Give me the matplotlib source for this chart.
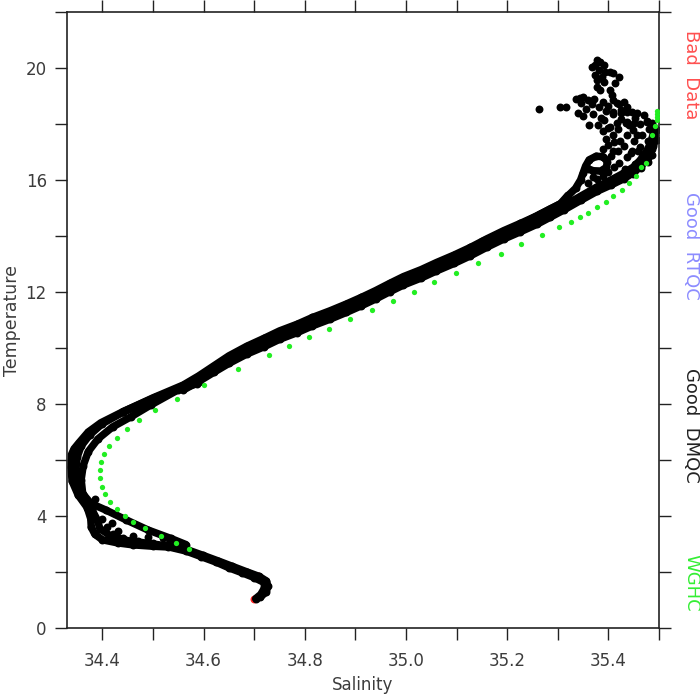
import matplotlib
matplotlib.use("Agg")
import matplotlib.pyplot as plt

# ---------------- data (Salinity, Temperature) ----------------
# WGHC climatology profile (green)
wghc_S = [35.497, 35.497, 35.497, 35.496, 35.493, 35.487, 35.475, 35.465, 35.454, 35.440,
          35.426, 35.410, 35.395, 35.378, 35.360, 35.3445, 35.326, 35.303, 35.269, 35.228,
          35.187, 35.143, 35.099, 35.055, 35.0165, 34.974, 34.932, 34.890, 34.848, 34.808,
          34.768, 34.729, 34.668, 34.601, 34.547, 34.504, 34.473, 34.448, 34.428, 34.413,
          34.403, 34.397, 34.395, 34.395, 34.399, 34.406, 34.415, 34.428, 34.444, 34.461,
          34.485, 34.516, 34.546, 34.572]
wghc_T = [18.45, 18.35, 18.25, 18.15, 17.93, 17.60, 16.62, 16.45, 16.14, 15.90,
          15.64, 15.42, 15.20, 15.02, 14.83, 14.67, 14.51, 14.31, 14.04, 13.70,
          13.37, 13.02, 12.68, 12.35, 12.01, 11.68, 11.36, 11.02, 10.69, 10.38,
          10.07, 9.75, 9.25, 8.68, 8.18, 7.78, 7.42, 7.10, 6.79, 6.49,
          6.20, 5.93, 5.64, 5.36, 5.05, 4.78, 4.50, 4.25, 3.99, 3.78,
          3.56, 3.30, 3.05, 2.83]

# Bad data points (red)
bad_S = [34.699, 34.708]
bad_T = [1.02, 1.85]

# Good DMQC profiles (black)
tailA_S = [34.703, 34.713, 34.720, 34.720, 34.700, 34.675, 34.650, 34.625, 34.595, 34.565, 34.530]
tailA_T = [1.05, 1.20, 1.42, 1.62, 1.80, 1.98, 2.15, 2.35, 2.55, 2.75, 2.90]
tailB_S = [34.712, 34.724, 34.727, 34.724, 34.710, 34.686, 34.657, 34.628, 34.598, 34.570]
tailB_T = [1.10, 1.30, 1.50, 1.68, 1.84, 2.00, 2.20, 2.40, 2.60, 2.78]

outer_S = [34.545, 34.500, 34.460, 34.430, 34.400, 34.385, 34.378, 34.377, 34.370, 34.352,
           34.340, 34.338, 34.339, 34.344, 34.353, 34.372, 34.397, 34.440, 34.506, 34.586]
outer_T = [2.88, 2.92, 2.97, 3.04, 3.15, 3.35, 3.60, 3.90, 4.30, 4.75,
           5.25, 5.75, 6.20, 6.40, 6.60, 7.00, 7.33, 7.72, 8.25, 8.72]

mid_S = [34.560, 34.500, 34.450, 34.415, 34.395, 34.390, 34.380, 34.360, 34.348, 34.347,
         34.350, 34.358, 34.375, 34.400, 34.440, 34.500, 34.560]
mid_T = [2.85, 3.00, 3.12, 3.30, 3.55, 3.85, 4.20, 4.60, 5.10, 5.60,
         6.10, 6.50, 6.90, 7.30, 7.70, 8.15, 8.60]

inner_S = [34.565, 34.535, 34.490, 34.447, 34.407, 34.377, 34.361, 34.358, 34.362, 34.372,
           34.391, 34.420, 34.457, 34.496, 34.549]
inner_T = [2.98, 3.20, 3.50, 3.86, 4.21, 4.45, 4.80, 5.30, 5.80, 6.30,
           6.75, 7.18, 7.55, 7.97, 8.50]

loop_fill_S = [34.420, 34.440, 34.470, 34.500, 34.530, 34.410, 34.430, 34.460, 34.490, 34.520,
               34.400, 34.418, 34.385]
loop_fill_T = [3.35, 3.20, 3.10, 3.05, 3.00, 3.60, 3.45, 3.30, 3.25, 3.20,
               3.90, 3.75, 4.60]

center_S = [34.530, 34.560, 34.590, 34.620, 34.650, 34.685, 34.720, 34.750, 34.785, 34.815,
            34.850, 34.882, 34.912, 34.940, 34.968, 34.995, 35.030, 35.060, 35.095, 35.127,
            35.160, 35.193, 35.226, 35.259, 35.285, 35.312, 35.345, 35.378, 35.405, 35.430,
            35.450, 35.463, 35.475, 35.483, 35.488, 35.490]
center_T = [8.40, 8.65, 8.95, 9.28, 9.60, 9.93, 10.20, 10.46, 10.70, 10.94,
            11.18, 11.42, 11.66, 11.90, 12.16, 12.40, 12.65, 12.90, 13.17, 13.44,
            13.75, 14.04, 14.30, 14.57, 14.82, 15.08, 15.42, 15.76, 16.00, 16.24,
            16.47, 16.71, 17.00, 17.31, 17.60, 17.90]

lower_S = [34.560, 34.590, 34.620, 34.650, 34.685, 34.720, 34.750, 34.785, 34.815, 34.850,
           34.882, 34.912, 34.940, 34.968, 34.995, 35.030, 35.060, 35.095, 35.127, 35.160,
           35.193, 35.226, 35.259, 35.285, 35.312, 35.345, 35.378, 35.405, 35.430, 35.450,
           35.465, 35.478, 35.487, 35.493, 35.496]
lower_T = [8.50, 8.80, 9.13, 9.45, 9.78, 10.05, 10.31, 10.55, 10.79, 11.03,
           11.27, 11.51, 11.75, 12.01, 12.25, 12.50, 12.75, 13.02, 13.29, 13.60,
           13.89, 14.15, 14.42, 14.67, 14.93, 15.27, 15.60, 15.82, 16.04, 16.27,
           16.50, 16.80, 17.12, 17.45, 17.80]

upper_S = [34.440, 34.500, 34.560, 34.590, 34.620, 34.650, 34.685, 34.720, 34.750, 34.785,
           34.815, 34.850, 34.882, 34.912, 34.940, 34.968, 34.995, 35.030, 35.060, 35.095,
           35.127, 35.160, 35.193, 35.226, 35.259, 35.285, 35.305, 35.320]
upper_T = [7.72, 8.22, 8.68, 9.00, 9.36, 9.72, 10.06, 10.35, 10.61, 10.85,
           11.09, 11.33, 11.57, 11.81, 12.05, 12.31, 12.55, 12.80, 13.05, 13.32,
           13.59, 13.90, 14.19, 14.45, 14.72, 14.97, 15.15, 15.45]

upper2_S = [35.150, 35.190, 35.230, 35.265, 35.295, 35.320]
upper2_T = [13.80, 14.10, 14.45, 14.78, 15.05, 15.30]

loop_S = [35.318, 35.335, 35.345, 35.350, 35.355, 35.362, 35.376, 35.390, 35.398, 35.396,
          35.385, 35.370, 35.360]
loop_T = [15.40, 15.70, 16.00, 16.25, 16.50, 16.72, 16.85, 16.83, 16.65, 16.45,
          16.32, 16.33, 16.40]

cloud_S = [35.370, 35.390, 35.360, 35.400, 35.412, 35.378,
           # right dense block
           35.421, 35.418, 35.423, 35.419, 35.424, 35.433, 35.437, 35.431, 35.436, 35.434,
           35.448, 35.452, 35.447, 35.451, 35.449, 35.453, 35.464, 35.467, 35.462, 35.466,
           35.463, 35.478, 35.482, 35.479, 35.481, 35.477, 35.428, 35.444, 35.458, 35.472,
           35.488, 35.490, 35.486, 35.441, 35.456,
           # left column
           35.380, 35.390, 35.400, 35.410, 35.395, 35.400, 35.410, 35.390, 35.412, 35.405,
           # top-left clump
           35.335, 35.350, 35.345, 35.360, 35.372, 35.368, 35.355, 35.340, 35.382, 35.390,
           35.400, 35.395, 35.410, 35.425, 35.420, 35.436, 35.370, 35.385, 35.350,
           # column to 20 degrees
           35.378, 35.384, 35.374, 35.368, 35.391, 35.381, 35.394, 35.404, 35.410, 35.374,
           35.387, 35.378, 35.391, 35.414, 35.420, 35.378, 35.384, 35.404, 35.407, 35.410,
           # scattered
           35.344, 35.417, 35.430, 35.437, 35.447, 35.457, 35.470, 35.410, 35.424, 35.361,
           35.262, 35.305, 35.316, 35.391, 35.404, 35.437, 35.450, 35.477, 35.486, 35.493,
           35.496, 35.417]
cloud_T = [16.10, 16.15, 15.90, 16.30, 16.45, 16.05,
           16.62, 17.02, 17.38, 17.83, 18.18, 16.41, 16.83, 17.21, 17.62, 18.02,
           16.22, 16.58, 17.03, 17.41, 17.79, 18.22, 16.44, 16.81, 17.18, 17.62,
           18.01, 16.63, 17.02, 17.39, 17.81, 18.12, 16.25, 16.98, 17.02, 16.95,
           17.20, 17.55, 16.90, 17.95, 17.60,
           17.95, 17.75, 17.85, 17.60, 17.45, 17.25, 17.05, 17.10, 17.35, 16.85,
           18.90, 18.95, 18.75, 18.85, 18.90, 18.70, 18.55, 18.40, 18.60, 18.80,
           18.65, 18.45, 18.35, 18.50, 18.70, 18.60, 18.35, 18.20, 18.30,
           20.29, 20.23, 20.11, 20.05, 20.11, 19.93, 19.87, 19.87, 19.81, 19.75,
           19.69, 19.57, 19.51, 19.48, 19.67, 19.33, 19.21, 19.21, 19.04, 18.86,
           18.92, 18.74, 18.80, 18.44, 18.44, 18.38, 18.32, 18.44, 18.38, 17.96,
           18.54, 18.62, 18.62, 18.14, 17.90, 18.08, 18.02, 18.08, 18.02, 17.61,
           17.43, 18.02]

xticks = [34.4, 34.5, 34.6, 34.7, 34.8, 34.9, 35.0, 35.1, 35.2, 35.3, 35.4, 35.5]
xticklabels = ["34.4", "", "34.6", "", "34.8", "", "35.0", "", "35.2", "", "35.4", ""]
yticks = [0, 2, 4, 6, 8, 10, 12, 14, 16, 18, 20, 22]
yticklabels = ["0", "", "4", "", "8", "", "12", "", "16", "", "20", ""]

legend_labels = ["Bad  Data", "Good  RTQC", "Good  DMQC", "WGHC"]
legend_colors = ["#ff5050", "#8c8cff", "#222222", "#33ee33"]
legend_ypos = [75, 246, 425, 583]

# ---------------- figure ----------------
plt.rcParams['font.family'] = ['DejaVu Sans']
fig = plt.figure(figsize=(7, 7), dpi=100)
ax = fig.add_axes([67/700, 1 - 628/700, (659 - 67)/700, (628 - 12)/700])

txtc = "#3c3c3c"
MS = 5.7
mk = dict(color="black", marker="o", ms=MS, lw=5.4, solid_capstyle="round",
          solid_joinstyle="round", markeredgewidth=0)

ax.plot(bad_S, bad_T, "o", color="#ff2020", ms=MS, markeredgewidth=0, zorder=1)

for s, t in [(tailA_S, tailA_T), (tailB_S, tailB_T), (outer_S, outer_T), (mid_S, mid_T),
             (inner_S, inner_T), (center_S, center_T), (lower_S, lower_T),
             (upper_S, upper_T), (upper2_S, upper2_T), (loop_S, loop_T)]:
    ax.plot(s, t, zorder=2, **mk)
ax.plot(loop_fill_S, loop_fill_T, "o", color="black", ms=MS, markeredgewidth=0, zorder=2)
ax.plot(cloud_S, cloud_T, "o", color="black", ms=MS, markeredgewidth=0, zorder=2)

ax.plot(wghc_S, wghc_T, "o", color="#22ee22", ms=3.8, markeredgewidth=0, zorder=3)

ax.set_xlim(34.33, 35.5)
ax.set_ylim(0, 22)
ax.set_xticks(xticks)
ax.set_xticklabels(xticklabels)
ax.set_yticks(yticks)
ax.set_yticklabels(yticklabels)
ax.tick_params(axis="both", which="both", direction="out", length=8.5, width=1.0,
               top=True, right=True, labelsize=12, labelcolor=txtc, color="#222222")
ax.tick_params(axis="x", pad=9)
ax.tick_params(axis="y", pad=6)
for sp in ax.spines.values():
    sp.set_linewidth(1.2)
    sp.set_color("#222222")

ax.set_xlabel("Salinity", fontsize=12, color=txtc, labelpad=4)
ax.set_ylabel("Temperature", fontsize=12.5, color=txtc, labelpad=3)

for lab, col, yp in zip(legend_labels, legend_colors, legend_ypos):
    fig.text(691/700, 1 - yp/700, lab, rotation=270, ha="center", va="center",
             fontsize=13, color=col)

fig.savefig("out.png", dpi=100)
